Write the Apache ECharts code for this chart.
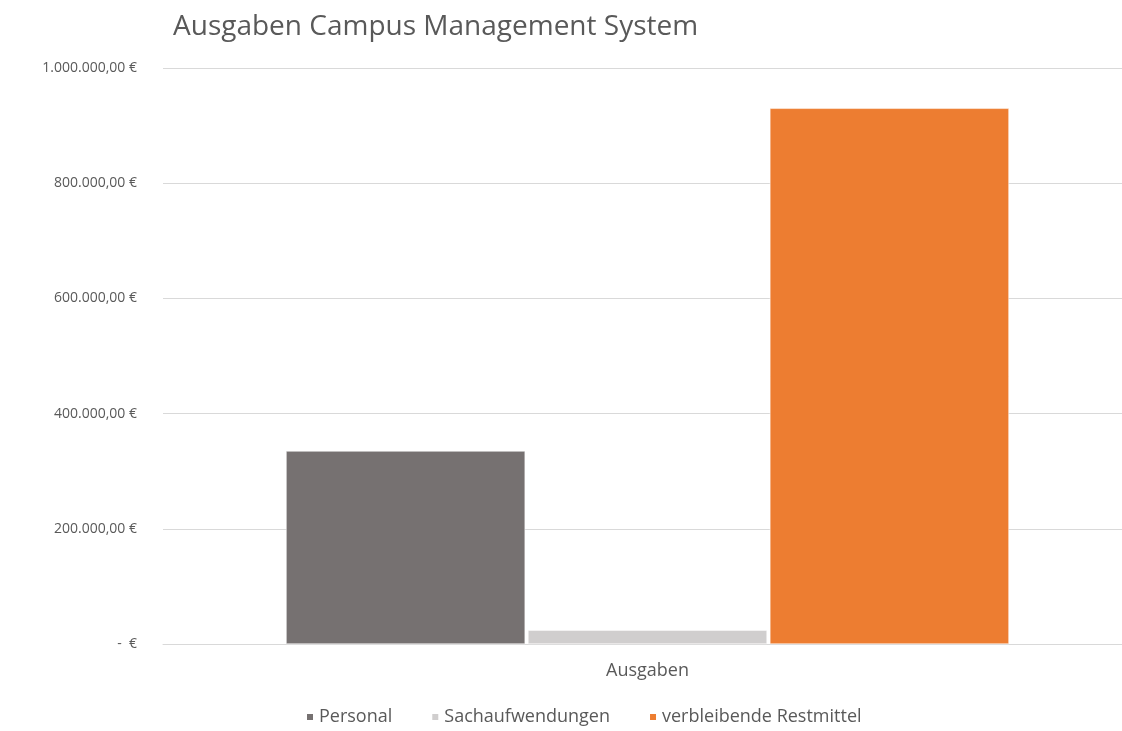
<!DOCTYPE html>
<html>
<head>
<meta charset="utf-8">
<script src="https://cdn.jsdelivr.net/npm/echarts@6/dist/echarts.min.js"></script>
<style>
  html, body { margin: 0; padding: 0; background: #fff; }
  #chart { width: 1122px; height: 731px; }
</style>
</head>
<body>
<div id="chart"></div>
<script>
  // Daten
  const categories = ['Ausgaben']
  const seriesNames = ['Personal', 'Sachaufwendungen', 'verbleibende Restmittel']
  const personal = [335000]
  const sachaufwendungen = [24000]
  const restmittel = [930000]
  const colors = ['#767171', '#d0cece', '#ed7d31']

  function euro(v) {
    if (v === 0) return '-  €'
    let s = Math.round(v).toString().replace(/\B(?=(\d{3})+(?!\d))/g, '.')
    return s + ',00 €'
  }

  const font = '"Open Sans", "Noto Sans", sans-serif'
  const chart = echarts.init(document.getElementById('chart'))

  chart.setOption({
    animation: false,
    color: colors,
    textStyle: { fontFamily: font },
    title: {
      text: 'Ausgaben Campus Management System',
      left: 168,
      top: 8,
      textStyle: { color: '#595959', fontSize: 28, fontWeight: 'normal', fontFamily: font }
    },
    legend: {
      bottom: 0,
      left: 300,
      itemWidth: 8,
      itemHeight: 8,
      itemGap: 38,
      icon: 'rect',
      data: seriesNames,
      textStyle: { color: '#595959', fontSize: 18, fontFamily: font }
    },
    grid: { left: 163, width: 969, top: 68, bottom: 87, containLabel: false, outerBoundsMode: 'none' },
    xAxis: {
      type: 'category',
      data: categories,
      axisLine: { lineStyle: { color: '#d9d9d9' } },
      axisTick: { show: false },
      axisLabel: { color: '#595959', fontSize: 18, margin: 18 }
    },
    yAxis: {
      type: 'value',
      min: 0,
      max: 1000000,
      interval: 200000,
      axisLine: { show: false },
      axisTick: { show: false },
      splitLine: { lineStyle: { color: '#d9d9d9' } },
      axisLabel: { color: '#595959', fontSize: 14, margin: 26, formatter: euro }
    },
    series: [
      { name: seriesNames[0], type: 'bar', data: personal, barGap: '1.2%', barCategoryGap: '25.4%',
        itemStyle: { borderColor: '#fff', borderWidth: 0.5 } },
      { name: seriesNames[1], type: 'bar', data: sachaufwendungen,
        itemStyle: { borderColor: '#fff', borderWidth: 0.5 } },
      { name: seriesNames[2], type: 'bar', data: restmittel,
        itemStyle: { borderColor: '#fff', borderWidth: 0.5 } }
    ]
  })
</script>
</body>
</html>
